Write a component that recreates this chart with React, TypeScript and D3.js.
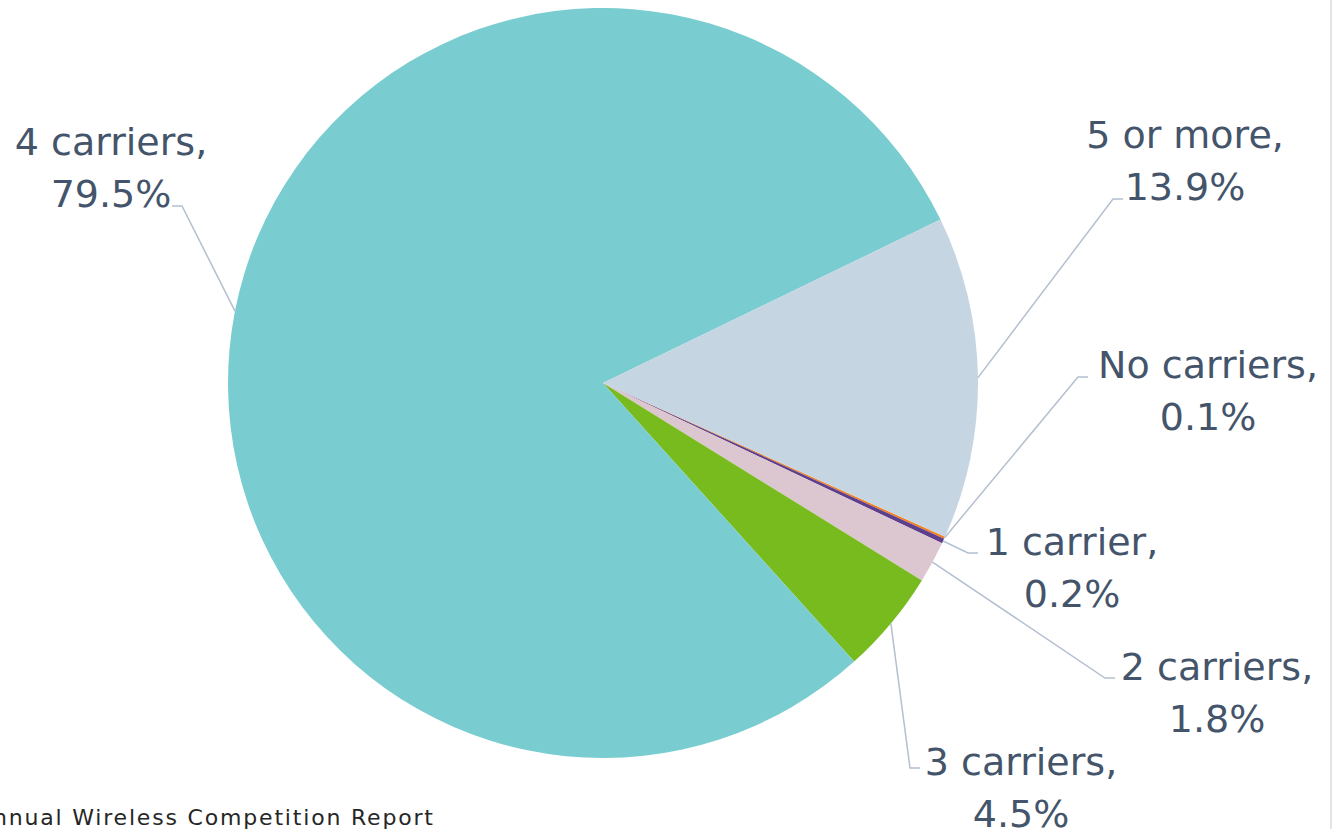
import React from "react";
import * as d3 from "d3";

const categories = ["No carriers", "1 carrier", "2 carriers", "3 carriers", "4 carriers", "5 or more"];
const values = [0.1, 0.2, 1.8, 4.5, 79.5, 13.9];
const valueLabels = ["0.1%", "0.2%", "1.8%", "4.5%", "79.5%", "13.9%"];
const colors = ["#F58220", "#5E3F8E", "#DCC6D0", "#78BB1E", "#79CDD0", "#C6D5E2"];
const footnote = "Annual Wireless Competition Report";

// layout (label boxes / elbows), not data
const labelLayout = [
  { ex: 1078, ey: 377, dir: 1, cx: 1208, b1: 378 },
  { ex: 968, ey: 553, dir: 1, cx: 1072, b1: 555 },
  { ex: 1105, ey: 678, dir: 1, cx: 1217, b1: 680 },
  { ex: 910, ey: 768, dir: 1, cx: 1021, b1: 775 },
  { ex: 182, ey: 206, dir: -1, cx: 111, b1: 155 },
  { ex: 1113, ey: 199, dir: 1, cx: 1185, b1: 148 },
];

const W = 1332;
const H = 831;
const CX = 603;
const CY = 383;
const R = 375;
const START_DEG = 114.2;

export default function App() {
  const start = (START_DEG * Math.PI) / 180;
  const pie = d3
    .pie<number>()
    .sort(null)
    .value((d) => d)
    .startAngle(start)
    .endAngle(start + 2 * Math.PI);
  const arcs = pie(values);
  const arc = d3.arc<d3.PieArcDatum<number>>().innerRadius(0).outerRadius(R);
  const font = "'DejaVu Sans', sans-serif";
  const textColor = "#44546A";
  const lineH = 52;

  return (
    <svg
      width={W}
      height={H}
      style={{ position: "absolute", left: 0, top: 0, background: "#fff" }}
      fontFamily={font}
    >
      <g transform={`translate(${CX},${CY})`}>
        {arcs.map((a, i) => (
          <path key={i} d={arc(a) || ""} fill={colors[i]} />
        ))}
      </g>
      {arcs.map((a, i) => {
        const L = labelLayout[i];
        const mid = (a.startAngle + a.endAngle) / 2;
        const sx = CX + R * Math.sin(mid);
        const sy = CY - R * Math.cos(mid);
        const hx = L.ex + L.dir * 10;
        return (
          <g key={"l" + i}>
            <polyline
              points={`${sx},${sy} ${L.ex},${L.ey} ${hx},${L.ey}`}
              fill="none"
              stroke="#B4BFD0"
              strokeWidth={1.5}
            />
            <text x={L.cx} y={L.b1} textAnchor="middle" fontSize={38} fill={textColor}>
              {categories[i] + ","}
            </text>
            <text x={L.cx} y={L.b1 + lineH} textAnchor="middle" fontSize={38} fill={textColor}>
              {valueLabels[i]}
            </text>
          </g>
        );
      })}
      <text
        x={-24}
        y={825}
        fontSize={22}
        fill="#262626"
        textLength={457}
        lengthAdjust="spacing"
      >
        {footnote}
      </text>
      <line x1={1331} y1={0} x2={1331} y2={829} stroke="#E1E5EA" strokeWidth={2} />
    </svg>
  );
}
